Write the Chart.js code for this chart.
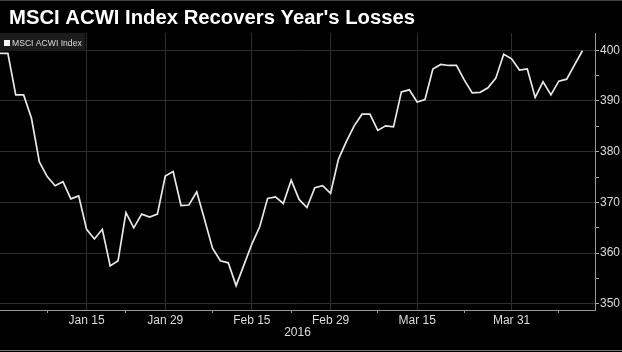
<!DOCTYPE html>
<html>
<head>
<meta charset="utf-8">
<script src="https://cdn.jsdelivr.net/npm/chart.js@4"></script>
<style>
  html, body { margin: 0; padding: 0; background: #000; }
  #wrap { width: 622px; height: 352px; }
</style>
</head>
<body>
<div id="wrap"><canvas id="myChart" width="622" height="352"></canvas></div>
<script>
// start: data
var chartTitle = "MSCI ACWI Index Recovers Year's Losses";
var seriesName = 'MSCI ACWI Index';
var yearLabel = '2016';

// hari bursa, 31 Des 2015 s/d 13 Apr 2016
var dates = [
  'Dec 31', 'Jan 1', 'Jan 4', 'Jan 5', 'Jan 6', 'Jan 7', 'Jan 8', 'Jan 11', 'Jan 12', 'Jan 13',
  'Jan 14', 'Jan 15', 'Jan 18', 'Jan 19', 'Jan 20', 'Jan 21', 'Jan 22', 'Jan 25', 'Jan 26', 'Jan 27',
  'Jan 28', 'Jan 29', 'Feb 1', 'Feb 2', 'Feb 3', 'Feb 4', 'Feb 5', 'Feb 8', 'Feb 9', 'Feb 10',
  'Feb 11', 'Feb 12', 'Feb 15', 'Feb 16', 'Feb 17', 'Feb 18', 'Feb 19', 'Feb 22', 'Feb 23', 'Feb 24',
  'Feb 25', 'Feb 26', 'Feb 29', 'Mar 1', 'Mar 2', 'Mar 3', 'Mar 4', 'Mar 7', 'Mar 8', 'Mar 9',
  'Mar 10', 'Mar 11', 'Mar 14', 'Mar 15', 'Mar 16', 'Mar 17', 'Mar 18', 'Mar 21', 'Mar 22', 'Mar 23',
  'Mar 24', 'Mar 25', 'Mar 28', 'Mar 29', 'Mar 30', 'Mar 31', 'Apr 1', 'Apr 4', 'Apr 5', 'Apr 6',
  'Apr 7', 'Apr 8', 'Apr 11', 'Apr 12', 'Apr 13'
];

var values = [
  399.4, 399.4, 391.2, 391.2, 386.6, 378.0, 375.1, 373.3, 374.1, 370.7,
  371.3, 364.7, 362.8, 364.7, 357.5, 358.5, 368.0, 365.0, 367.7, 367.1,
  367.7, 375.2, 376.1, 369.4, 369.5, 372.1, 366.6, 361.0, 358.5, 358.1,
  353.6, 357.7, 361.8, 365.2, 370.8, 371.1, 369.8, 374.4, 370.6, 369.0,
  372.9, 373.3, 371.8, 378.5, 382.0, 385.1, 387.4, 387.4, 384.2, 385.1,
  384.9, 391.8, 392.2, 389.8, 390.3, 396.3, 397.2, 397.0, 397.0, 394.1,
  391.6, 391.7, 392.6, 394.5, 399.2, 398.3, 396.1, 396.3, 390.7, 393.8,
  391.2, 393.9, 394.3, 397.1, 399.9
];

var majorTicks = ['Jan 15', 'Jan 29', 'Feb 15', 'Feb 29', 'Mar 15', 'Mar 31'];
var minorTicks = ['Jan 8', 'Jan 22', 'Feb 8', 'Feb 22', 'Mar 8', 'Mar 23', 'Apr 8'];
var yTicks = [350, 355, 360, 365, 370, 375, 380, 385, 390, 395, 400];
// end: data

var majorIdx = majorTicks.map(function (d) { return dates.indexOf(d); });
var minorIdx = minorTicks.map(function (d) { return dates.indexOf(d); });
var allIdx = majorIdx.concat(minorIdx).sort(function (a, b) { return a - b; });

var points = values.map(function (v, i) { return { x: i, y: v }; });

Chart.defaults.font.family = '"Liberation Sans", Arial, sans-serif';

// judul, legend dan garis tepi digambar sendiri
var header = {
  id: 'header',
  beforeDraw: function (chart) {
    var c = chart.ctx;
    c.save();
    c.fillStyle = '#000';
    c.fillRect(0, 0, chart.width, chart.height);
    c.restore();
  },
  afterDraw: function (chart) {
    var c = chart.ctx;
    var area = chart.chartArea;
    c.save();
    c.fillStyle = '#fff';
    c.font = 'bold 20.3px "Liberation Sans", Arial, sans-serif';
    c.textBaseline = 'alphabetic';
    c.fillText(chartTitle, 9, 24);

    // legend kecil di pojok kiri atas
    c.fillStyle = '#1c1c1c';
    c.fillRect(area.left, area.top, 85, 18);
    c.fillStyle = '#fff';
    c.fillRect(area.left + 4, area.top + 7, 6, 6);
    c.fillStyle = '#ddd';
    c.font = '8.6px "Liberation Sans", Arial, sans-serif';
    c.fillText(seriesName, area.left + 12, area.top + 13);

    c.strokeStyle = '#444';
    c.lineWidth = 1;
    c.beginPath();
    c.moveTo(0, 0.5); c.lineTo(chart.width, 0.5);
    c.stroke();
    c.strokeStyle = '#777';
    c.beginPath();
    c.moveTo(0, 350.5); c.lineTo(chart.width, 350.5);
    c.stroke();
    c.restore();
  }
};

var config = {
  type: 'line',
  data: {
    datasets: [{
      label: seriesName,
      data: points,
      borderColor: '#e8e8e8',
      borderWidth: 1.7,
      pointRadius: 0,
      tension: 0
    }]
  },
  options: {
    responsive: false,
    animation: false,
    devicePixelRatio: 1,
    layout: { padding: { top: 33, left: 0, right: 0, bottom: 0 } },
    plugins: {
      legend: { display: false },
      title: { display: false },
      tooltip: { enabled: false }
    },
    scales: {
      x: {
        type: 'linear',
        min: 0,
        max: 75.6,
        afterBuildTicks: function (s) {
          s.ticks = allIdx.map(function (i) { return { value: i }; });
        },
        afterFit: function (s) { s.height = 42; },
        grid: {
          color: function (ctx) {
            return ctx.tick && majorIdx.indexOf(ctx.tick.value) >= 0 ? '#2e2e2e' : 'rgba(0,0,0,0)';
          },
          tickColor: function (ctx) {
            return ctx.tick && minorIdx.indexOf(ctx.tick.value) >= 0 ? '#999' : 'rgba(0,0,0,0)';
          },
          tickLength: 3
        },
        border: { color: '#999', width: 1 },
        ticks: {
          autoSkip: false,
          maxRotation: 0,
          minRotation: 0,
          padding: 0,
          color: '#ddd',
          font: { size: 12 },
          callback: function (v) {
            return majorIdx.indexOf(v) >= 0 ? dates[v] : '';
          }
        },
        title: {
          display: true,
          text: yearLabel,
          color: '#ddd',
          font: { size: 12 },
          padding: { top: 0, bottom: 12 }
        }
      },
      y: {
        position: 'right',
        min: 348.8,
        max: 403.4,
        afterBuildTicks: function (s) {
          s.ticks = yTicks.map(function (v) { return { value: v }; });
        },
        afterFit: function (s) { s.width = 27; },
        grid: {
          color: function (ctx) {
            return ctx.tick && ctx.tick.value % 10 === 0 ? '#2e2e2e' : 'rgba(0,0,0,0)';
          },
          tickColor: '#aaa',
          tickLength: 4
        },
        border: { color: '#999', width: 1 },
        ticks: {
          padding: 1,
          color: '#ddd',
          font: { size: 12 },
          callback: function (v) { return v % 10 === 0 ? v : ''; }
        }
      }
    }
  },
  plugins: [header]
};

var ctx = document.getElementById('myChart').getContext('2d');
var myChart = new Chart(ctx, config);
</script>
</body>
</html>
